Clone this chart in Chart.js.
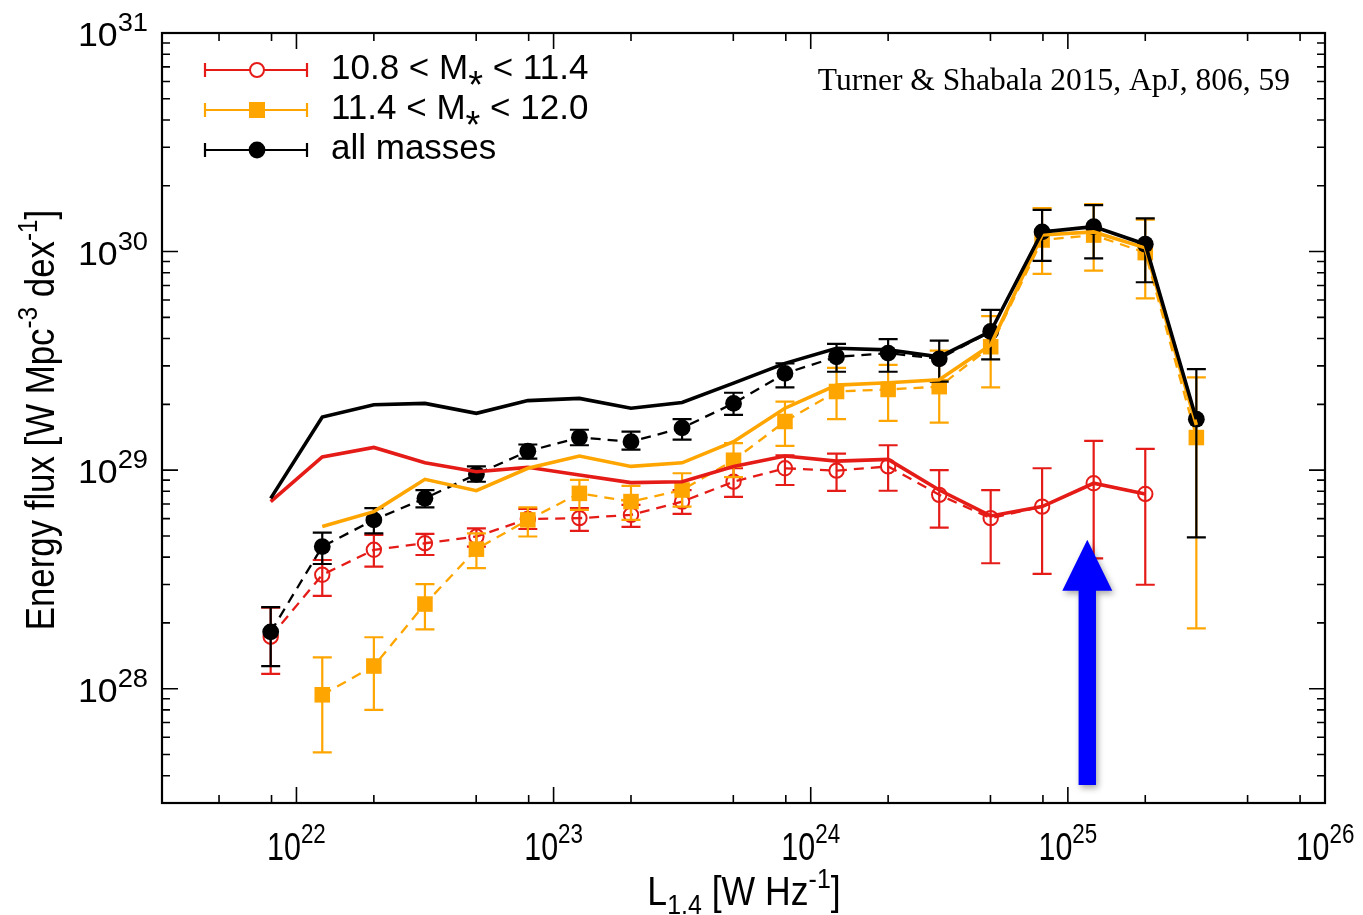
<!DOCTYPE html>
<html>
<head>
<meta charset="utf-8">
<script src="https://cdn.jsdelivr.net/npm/chart.js@4.4.1/dist/chart.umd.min.js"></script>
<style>
  html, body { margin: 0; padding: 0; background: #ffffff; }
  canvas { display: block; }
</style>
</head>
<body>
<canvas id="chart" width="1363" height="915"></canvas>
<script>
// 1.4 GHz luminosity bin centres [W Hz^-1] (0.2 dex bins)
const lumBins = [7.94e21, 1.26e22, 2.00e22, 3.16e22, 5.01e22, 7.94e22, 1.26e23, 2.00e23, 3.16e23,
                 5.01e23, 7.94e23, 1.26e24, 2.00e24, 3.16e24, 5.01e24, 7.94e24, 1.26e25, 2.00e25, 3.16e25];

// 10.8 < M* < 11.4 : binned energy flux with error bars, and the model curve
const lowMassFlux  = [1.73e28, 3.32e28, 4.32e28, 4.63e28, 4.97e28, 5.98e28, 6.03e28, 6.24e28, 7.18e28, 8.85e28,
                      1.02e29, 9.95e28, 1.04e29, 7.71e28, 6.03e28, 6.81e28, 8.71e28, 7.78e28, null];
const lowMassErrLo = [1.17e28, 2.66e28, 3.62e28, 4.09e28, 4.47e28, 5.38e28, 5.27e28, 5.50e28, 6.31e28, 7.54e28,
                      8.55e28, 8.04e28, 8.05e28, 5.46e28, 3.75e28, 3.35e28, 3.95e28, 2.99e28, null];
const lowMassErrHi = [2.35e28, 3.88e28, 5.06e28, 5.11e28, 5.42e28, 6.64e28, 6.71e28, 6.93e28, 8.11e28, 1.02e29,
                      1.17e29, 1.19e29, 1.30e29, 1.00e29, 8.11e28, 1.02e29, 1.36e29, 1.25e29, null];
const lowMassModel = [7.18e28, 1.15e29, 1.27e29, 1.08e29, 9.84e28, 1.03e29, 9.51e28, 8.77e28, 8.85e28, 1.04e29,
                      1.16e29, 1.10e29, 1.12e29, 8.11e28, 6.17e28, 6.81e28, 8.71e28, 7.78e28, null];

// 11.4 < M* < 12.0
const highMassFlux  = [null, 9.38e27, 1.27e28, 2.44e28, 4.35e28, 5.92e28, 7.83e28, 7.18e28, 8.11e28, 1.11e29,
                       1.67e29, 2.29e29, 2.34e29, 2.41e29, 3.67e29, 1.13e30, 1.19e30, 9.89e29, 1.41e29];
const highMassErrLo = [null, 5.11e27, 8.00e27, 1.87e28, 3.56e28, 4.97e28, 6.58e28, 5.92e28, 6.81e28, 9.29e28,
                       1.29e29, 1.71e29, 1.68e29, 1.65e29, 2.39e29, 7.91e29, 8.18e29, 6.11e29, 1.89e28];
const highMassErrHi = [null, 1.39e28, 1.72e28, 3.01e28, 5.14e28, 6.76e28, 9.02e28, 8.47e28, 9.68e28, 1.33e29,
                       2.06e29, 2.94e29, 3.03e29, 3.52e29, 5.07e29, 1.58e30, 1.65e30, 1.40e30, 2.66e29];
const highMassModel = [null, 5.52e28, 6.46e28, 9.08e28, 8.05e28, 1.02e29, 1.16e29, 1.04e29, 1.08e29, 1.35e29,
                       1.92e29, 2.45e29, 2.51e29, 2.59e29, 3.74e29, 1.19e30, 1.23e30, 1.04e30, 1.61e29];

// all masses
const allFlux  = [1.82e28, 4.47e28, 5.92e28, 7.43e28, 9.57e28, 1.22e29, 1.41e29, 1.35e29, 1.56e29, 2.02e29,
                  2.77e29, 3.30e29, 3.43e29, 3.23e29, 4.31e29, 1.23e30, 1.30e30, 1.08e30, 1.71e29];
const allErrLo = [1.27e28, 3.72e28, 5.14e28, 6.75e28, 8.85e28, 1.13e29, 1.30e29, 1.24e29, 1.38e29, 1.79e29,
                  2.39e29, 2.82e29, 2.82e29, 2.54e29, 3.21e29, 9.06e29, 9.31e29, 7.24e29, 4.93e28];
const allErrHi = [2.36e28, 5.18e28, 6.70e28, 8.11e28, 1.04e29, 1.31e29, 1.53e29, 1.50e29, 1.71e29, 2.26e29,
                  3.08e29, 3.78e29, 3.98e29, 3.91e29, 5.41e29, 1.55e30, 1.63e30, 1.42e30, 2.90e29];
const allModel = [7.43e28, 1.75e29, 1.99e29, 2.02e29, 1.82e29, 2.08e29, 2.13e29, 1.92e29, 2.04e29, 2.50e29,
                  3.08e29, 3.61e29, 3.55e29, 3.30e29, 4.31e29, 1.23e30, 1.30e30, 1.08e30, 1.71e29];

// axis decades and legend entries
const xTickExponents = [22, 23, 24, 25, 26];
const yTickExponents = [28, 29, 30, 31];
const legendLabels = [
  { pre: '10.8 < M', post: ' < 11.4' },
  { pre: '11.4 < M', post: ' < 12.0' },
  { pre: 'all masses', post: null }
];
const citation = 'Turner & Shabala 2015, ApJ, 806, 59';
const xTitle = { main: 'L', sub: '1.4', mid: ' [W Hz', sup: '-1', end: ']' };
const yTitle = ['Energy flux [W Mpc', '-3', ' dex', '-1', ']'];
// highlighted luminosity bin (arrow)
const arrowLum = 1.19e25, arrowTip = 4.8e28, arrowTail = 3.63e27;

const RED = '#e51b17', ORANGE = '#ffa500', BLACK = '#000000', BLUE = '#0000ff';
const SANS = '"Liberation Sans", Arial, Helvetica, sans-serif';
const SERIF = '"Liberation Serif", "Times New Roman", serif';

const pts = arr => lumBins.map((x, i) => ({ x: x, y: arr[i] }));

const series = [
  { flux: lowMassFlux,  lo: lowMassErrLo,  hi: lowMassErrHi,  color: RED },
  { flux: highMassFlux, lo: highMassErrLo, hi: highMassErrHi, color: ORANGE },
  { flux: allFlux,      lo: allErrLo,      hi: allErrHi,      color: BLACK }
];

// Datasets: index 0 is painted last (on top)
const datasets = [
  { data: pts(allModel), borderColor: BLACK, borderWidth: 3.6, pointRadius: 0, fill: false },
  { data: pts(highMassModel), borderColor: ORANGE, borderWidth: 3.6, pointRadius: 0, fill: false },
  { data: pts(lowMassModel), borderColor: RED, borderWidth: 3.6, pointRadius: 0, fill: false },
  { data: pts(allFlux), borderColor: BLACK, borderWidth: 2.3, borderDash: [10, 7],
    pointStyle: 'circle', pointRadius: 8.4, pointBackgroundColor: BLACK, pointBorderWidth: 0, errIdx: 2 },
  { data: pts(highMassFlux), borderColor: ORANGE, borderWidth: 2.3, borderDash: [10, 7],
    pointStyle: 'rect', pointRadius: 11, pointBackgroundColor: ORANGE, pointBorderWidth: 0, errIdx: 1 },
  { data: pts(lowMassFlux), borderColor: RED, borderWidth: 2.3, borderDash: [10, 7],
    pointStyle: 'circle', pointRadius: 7.2, pointBackgroundColor: 'rgba(0,0,0,0)',
    pointBorderColor: RED, pointBorderWidth: 2, errIdx: 0 }
];

// text made of runs with different sizes / vertical offsets
function drawRuns(ctx, runs, x, y, align, sx, family) {
  const widths = runs.map(r => { ctx.font = r.size + 'px ' + family; return ctx.measureText(r.text).width * sx + (r.gap || 0); });
  const total = widths.reduce((a, b) => a + b, 0);
  let cx = align === 'center' ? x - total / 2 : (align === 'right' ? x - total : x);
  runs.forEach((r, i) => {
    ctx.save();
    ctx.font = r.size + 'px ' + family;
    ctx.textAlign = 'left';
    ctx.textBaseline = 'alphabetic';
    ctx.translate(cx + (r.dx || 0), y + (r.dy || 0));
    ctx.scale(sx, 1);
    ctx.fillText(r.text, 0, 0);
    ctx.restore();
    cx += widths[i];
  });
  return total;
}

const errorBarPlugin = {
  id: 'errorBars',
  beforeDatasetDraw(chart, args) {
    const ds = chart.data.datasets[args.index];
    if (ds.errIdx === undefined) return;
    const s = series[ds.errIdx];
    const xs = chart.scales.x, ys = chart.scales.y, ctx = chart.ctx;
    ctx.save();
    ctx.strokeStyle = s.color;
    ctx.lineWidth = 2.2;
    const cap = 9.5;
    lumBins.forEach((L, i) => {
      if (s.flux[i] === null) return;
      const px = xs.getPixelForValue(L);
      const yl = ys.getPixelForValue(s.lo[i]);
      const yh = ys.getPixelForValue(s.hi[i]);
      ctx.beginPath();
      ctx.moveTo(px, yl); ctx.lineTo(px, yh);
      ctx.moveTo(px - cap, yl); ctx.lineTo(px + cap, yl);
      ctx.moveTo(px - cap, yh); ctx.lineTo(px + cap, yh);
      ctx.stroke();
    });
    ctx.restore();
  }
};

const framePlugin = {
  id: 'frameAxes',
  afterDraw(chart) {
    const ctx = chart.ctx, a = chart.chartArea, xs = chart.scales.x, ys = chart.scales.y;
    ctx.save();
    ctx.strokeStyle = BLACK;
    ctx.fillStyle = BLACK;
    // ticks on all four sides, pointing inwards
    ctx.lineWidth = 1.6;
    ctx.beginPath();
    const xDecades = [21, 22, 23, 24, 25];
    xDecades.forEach(d => {
      [1, 2, 5, 8].forEach(m => {
        const v = m * Math.pow(10, d);
        if (v < xs.min || v > xs.max) return;
        const len = m === 1 ? 16 : 8;
        const px = xs.getPixelForValue(v);
        ctx.moveTo(px, a.bottom); ctx.lineTo(px, a.bottom - len);
        ctx.moveTo(px, a.top); ctx.lineTo(px, a.top + len);
      });
    });
    const yDecades = [27, 28, 29, 30, 31];
    yDecades.forEach(d => {
      [1, 2, 3, 4, 5, 6, 7, 8, 9].forEach(m => {
        const v = m * Math.pow(10, d);
        if (v < ys.min * 0.999 || v > ys.max * 1.001) return;
        const len = m === 1 ? 16 : 8;
        const py = ys.getPixelForValue(v);
        ctx.moveTo(a.left, py); ctx.lineTo(a.left + len, py);
        ctx.moveTo(a.right, py); ctx.lineTo(a.right - len, py);
      });
    });
    ctx.stroke();
    // frame
    ctx.lineWidth = 2.2;
    ctx.strokeRect(a.left, a.top, a.right - a.left, a.bottom - a.top);

    // y tick labels
    yTickExponents.forEach(e => {
      const py = ys.getPixelForValue(Math.pow(10, e));
      drawRuns(ctx, [
        { text: '10', size: 34 },
        { text: String(e), size: 26, dy: -15 }
      ], 148, py + 13, 'right', 1.05, SANS);
    });
    // x tick labels
    xTickExponents.forEach(e => {
      const px = xs.getPixelForValue(Math.pow(10, e));
      drawRuns(ctx, [
        { text: '10', size: 38 },
        { text: String(e), size: 28, dy: -17 }
      ], px, 860, 'center', 0.8, SANS);
    });
    // x axis title
    drawRuns(ctx, [
      { text: xTitle.main, size: 40 },
      { text: xTitle.sub, size: 28, dy: 9 },
      { text: xTitle.mid, size: 40 },
      { text: xTitle.sup, size: 28, dy: -17 },
      { text: xTitle.end, size: 40 }
    ], 744, 905, 'center', 0.89, SANS);
    // y axis title
    ctx.save();
    ctx.translate(54, 420);
    ctx.rotate(-Math.PI / 2);
    drawRuns(ctx, [
      { text: yTitle[0], size: 40 },
      { text: yTitle[1], size: 28, dy: -17 },
      { text: yTitle[2], size: 40 },
      { text: yTitle[3], size: 28, dy: -17 },
      { text: yTitle[4], size: 40 }
    ], 0, 0, 'center', 0.87, SANS);
    ctx.restore();
    ctx.restore();
  }
};

const overlayPlugin = {
  id: 'overlay',
  afterDraw(chart) {
    const ctx = chart.ctx, xs = chart.scales.x, ys = chart.scales.y;
    // arrow marking a luminosity bin
    const ax = xs.getPixelForValue(arrowLum);
    const tipY = ys.getPixelForValue(arrowTip);
    const tailY = ys.getPixelForValue(arrowTail);
    const headLen = 51, headHalf = 25, shaftHalf = 8.7;
    ctx.save();
    ctx.shadowColor = 'rgba(0,0,0,0.35)';
    ctx.shadowBlur = 6;
    ctx.shadowOffsetX = 2;
    ctx.shadowOffsetY = 3;
    ctx.fillStyle = BLUE;
    ctx.beginPath();
    ctx.moveTo(ax, tipY);
    ctx.lineTo(ax + headHalf, tipY + headLen);
    ctx.lineTo(ax + shaftHalf, tipY + headLen);
    ctx.lineTo(ax + shaftHalf, tailY);
    ctx.lineTo(ax - shaftHalf, tailY);
    ctx.lineTo(ax - shaftHalf, tipY + headLen);
    ctx.lineTo(ax - headHalf, tipY + headLen);
    ctx.closePath();
    ctx.fill();
    ctx.restore();

    // legend
    const rows = [70, 110, 150];
    const styles = [
      { color: RED, marker: 'open' },
      { color: ORANGE, marker: 'square' },
      { color: BLACK, marker: 'dot' }
    ];
    ctx.save();
    rows.forEach((ry, i) => {
      const st = styles[i];
      ctx.strokeStyle = st.color;
      ctx.fillStyle = st.color;
      ctx.lineWidth = 2.2;
      ctx.beginPath();
      ctx.moveTo(205, ry); ctx.lineTo(307, ry);
      ctx.moveTo(205, ry - 7); ctx.lineTo(205, ry + 7);
      ctx.moveTo(307, ry - 7); ctx.lineTo(307, ry + 7);
      ctx.stroke();
      if (st.marker === 'open') {
        ctx.fillStyle = '#ffffff';
        ctx.beginPath(); ctx.arc(257, ry, 7, 0, Math.PI * 2); ctx.fill();
        ctx.lineWidth = 2; ctx.stroke();
      } else if (st.marker === 'square') {
        ctx.fillRect(257 - 8, ry - 8, 16, 16);
      } else {
        ctx.beginPath(); ctx.arc(257, ry, 8.4, 0, Math.PI * 2); ctx.fill();
      }
      ctx.fillStyle = BLACK;
      const lab = legendLabels[i];
      if (lab.post === null) {
        drawRuns(ctx, [{ text: lab.pre, size: 35 }], 331, ry + 9, 'left', 1.0, SANS);
      } else {
        drawRuns(ctx, [
          { text: lab.pre, size: 35 },
          { text: '*', size: 38, dy: 19, gap: 0 },
          { text: lab.post, size: 35 }
        ], 331, ry + 9, 'left', 1.0, SANS);
      }
    });
    // citation
    ctx.fillStyle = BLACK;
    ctx.font = '31.5px ' + SERIF;
    ctx.textAlign = 'right';
    ctx.textBaseline = 'alphabetic';
    ctx.fillText(citation, 1290, 90);
    ctx.restore();
  }
};

new Chart(document.getElementById('chart'), {
  type: 'line',
  data: { datasets: datasets },
  options: {
    responsive: false,
    animation: false,
    devicePixelRatio: 1,
    events: [],
    layout: { padding: { left: 162, top: 33, right: 38, bottom: 112 } },
    elements: { line: { tension: 0 } },
    plugins: { legend: { display: false }, tooltip: { enabled: false } },
    scales: {
      x: { type: 'logarithmic', min: 3e21, max: 1e26, display: false },
      y: { type: 'logarithmic', min: 3e27, max: 1e31, display: false }
    }
  },
  plugins: [errorBarPlugin, framePlugin, overlayPlugin]
});
</script>
</body>
</html>
